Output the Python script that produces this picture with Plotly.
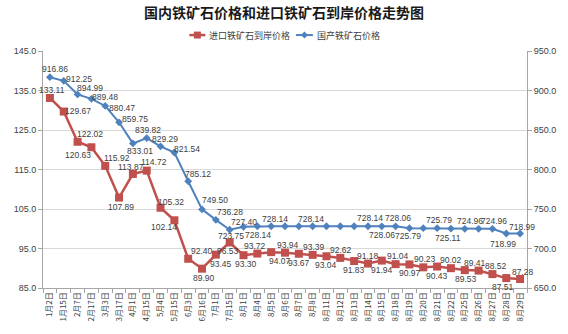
import plotly.graph_objects as go

# Trade dates (categories on the x axis)
dates = ["1月2日", "1月15日", "2月7日", "2月17日", "3月3日", "3月17日", "4月1日",
         "4月15日", "5月4日", "5月15日", "6月3日", "6月16日", "7月1日", "7月15日",
         "8月1日", "8月4日", "8月5日", "8月6日", "8月7日", "8月8日", "8月11日",
         "8月12日", "8月13日", "8月14日", "8月15日", "8月18日", "8月19日", "8月20日",
         "8月21日", "8月22日", "8月25日", "8月26日", "8月27日", "8月28日", "8月29日"]

# Imported iron ore landed price (left axis)
import_price = [133.11, 129.67, 122.02, 120.63, 115.92, 107.89, 113.87, 114.72,
                105.32, 102.14, 92.40, 89.90, 93.45, 96.53, 93.30, 93.72, 94.07,
                93.94, 93.67, 93.39, 93.04, 92.62, 91.83, 91.18, 91.94, 91.04,
                90.97, 90.23, 90.43, 90.02, 89.53, 89.41, 88.52, 87.51, 87.28]

# Domestic iron ore price (right axis)
domestic_price = [916.86, 912.25, 894.99, 889.48, 880.47, 859.75, 833.01, 839.82,
                  829.29, 821.54, 785.12, 749.50, 736.28, 723.75, 727.40, 728.14,
                  728.14, 728.14, 728.14, 728.14, 728.14, 728.14, 728.14, 728.14,
                  728.06, 728.06, 725.79, 725.79, 725.79, 725.11, 724.96, 724.96,
                  724.96, 718.99, 718.99]

series_names = ["进口铁矿石到岸价格", "国产铁矿石价格"]

left_ticks = [85.0, 95.0, 105.0, 115.0, 125.0, 135.0, 145.0]
right_ticks = [650.0, 700.0, 750.0, 800.0, 850.0, 900.0, 950.0]

RED = "#C0504D"
BLUE = "#4F81BD"
LABEL_FONT = dict(family="Liberation Sans, Noto Sans CJK SC", size=8.5, color="#404040")

W, H = 568, 334
ML, MR, MT, MB = 43, 39, 51, 45
PW, PH = W - ML - MR, H - MT - MB

# Label offsets (dx right, dy down, in px) for the imported series, one per point
red_offsets = [(2, -8), (14, -1), (12, -8), (-13, 8), (12, -8), (2, 9), (-2, -7),
               (7, -9), (10, -6), (-10, 7), (14, -8), (2, 9), (5, 9), (-2, 9),
               (2, 9), (-2, -8), (9, 9), (3, -8), (0, 9), (1, -8), (0, 9), (1, -8),
               (0, 9), (0, -8), (0, 9), (2, -8), (1, 9), (2, -8), (0, 9), (0, -8),
               (1, 9), (-4, -8), (4, -8), (-3, 9), (3, -7)]

# Labelled points of the domestic series and their label offsets
blue_offsets = {0: (5, -8), 1: (15, -2), 2: (12, -6), 3: (14, -2), 4: (17, 2),
                5: (16, -3), 6: (7, 8), 7: (1, -8), 8: (4, -7), 9: (13, -3),
                10: (10, -7), 11: (13, -9), 12: (14, -8), 13: (1, 6), 14: (0, -5),
                15: (1, 9), 16: (4, -7), 19: (-2, -7), 23: (2, -8), 24: (0, 9),
                25: (2, -8), 26: (-1, 8), 28: (2, -8), 29: (-3, 9), 30: (5, -8),
                32: (2, -8), 33: (-3, 10), 34: (2, -7)}

fig = go.Figure()
fig.add_trace(go.Scatter(
    x=dates, y=domestic_price, name=series_names[1], mode="lines+markers",
    line=dict(color=BLUE, width=2), marker=dict(symbol="diamond", size=6, color=BLUE),
    cliponaxis=False, yaxis="y2", showlegend=False))
fig.add_trace(go.Scatter(
    x=dates, y=import_price, name=series_names[0], mode="lines+markers",
    line=dict(color=RED, width=2.5), marker=dict(symbol="square", size=8, color=RED),
    cliponaxis=False, yaxis="y", showlegend=False))

annotations = []
for i, v in enumerate(import_price):
    dx, dy = red_offsets[i]
    annotations.append(dict(x=dates[i], y=v, xref="x", yref="y", text=f"{v:.2f}",
                            showarrow=False, xshift=dx, yshift=-dy, font=LABEL_FONT))
for i, (dx, dy) in blue_offsets.items():
    v = domestic_price[i]
    annotations.append(dict(x=dates[i], y=v, xref="x", yref="y2", text=f"{v:.2f}",
                            showarrow=False, xshift=dx, yshift=-dy, font=LABEL_FONT))


def px_x(px):
    return (px - ML) / PW


def px_y(py):
    return (H - MB - py) / PH


# Legend row above the plot: short line key + marker + name
shapes = []
LEG_Y = 35
legend_keys = [(190, 206, RED, "square", 2.5, series_names[0]),
               (297, 314, BLUE, "diamond", 2, series_names[1])]
for x0, x1, color, sym, lw, name in legend_keys:
    shapes.append(dict(type="line", xref="paper", yref="paper",
                       x0=px_x(x0), x1=px_x(x1), y0=px_y(LEG_Y), y1=px_y(LEG_Y),
                       line=dict(color=color, width=lw)))
    cx = (x0 + x1) / 2
    if sym == "square":
        shapes.append(dict(type="rect", xref="paper", yref="paper",
                           x0=px_x(cx - 3.5), x1=px_x(cx + 3.5),
                           y0=px_y(LEG_Y + 3.5), y1=px_y(LEG_Y - 3.5),
                           fillcolor=color, line=dict(width=0)))
    else:
        r = 3.5
        path = (f"M {px_x(cx - r)} {px_y(LEG_Y)} L {px_x(cx)} {px_y(LEG_Y - r)} "
                f"L {px_x(cx + r)} {px_y(LEG_Y)} L {px_x(cx)} {px_y(LEG_Y + r)} Z")
        shapes.append(dict(type="path", xref="paper", yref="paper", path=path,
                           fillcolor=color, line=dict(width=0)))
    annotations.append(dict(x=px_x(x1 + 2), y=px_y(LEG_Y), xref="paper", yref="paper",
                            xanchor="left", yanchor="middle", showarrow=False, text=name,
                            font=dict(family="Noto Sans CJK SC", size=9, color="#404040")))

fig.update_layout(
    width=W, height=H,
    margin=dict(l=ML, r=MR, t=MT, b=MB),
    paper_bgcolor="white", plot_bgcolor="white",
    font=dict(family="Liberation Sans, Noto Sans CJK SC", size=9, color="#404040"),
    title=dict(text="<b>国内铁矿石价格和进口铁矿石到岸价格走势图</b>",
               font=dict(family="Noto Sans CJK SC", size=14, color="#1a1a1a"),
               x=0.5, xanchor="center", y=1 - 13 / H, yanchor="middle"),
    showlegend=False,
    annotations=annotations,
    shapes=shapes,
    xaxis=dict(type="category", range=[-0.5, len(dates) - 0.5], tickangle=-90,
               tickfont=dict(family="Noto Sans CJK SC", size=8, color="#404040"),
               showline=True, linecolor="#A6A6A6", linewidth=1, ticks="outside",
               tickson="boundaries", ticklen=4, tickcolor="#A6A6A6",
               showgrid=False, zeroline=False),
    yaxis=dict(range=[85, 145], tickvals=left_ticks, tickformat=".1f",
               showline=True, linecolor="#A6A6A6", linewidth=1, ticks="outside",
               ticklen=4, tickcolor="#A6A6A6", showgrid=True, gridcolor="#D9D9D9",
               gridwidth=1, zeroline=False, tickfont=dict(size=9)),
    yaxis2=dict(range=[650, 950], tickvals=right_ticks, tickformat=".1f",
                overlaying="y", side="right", showline=True, linecolor="#A6A6A6",
                linewidth=1, ticks="outside", ticklen=4, tickcolor="#A6A6A6",
                showgrid=False, zeroline=False, tickfont=dict(size=9)),
)

fig.write_html("out.html")
